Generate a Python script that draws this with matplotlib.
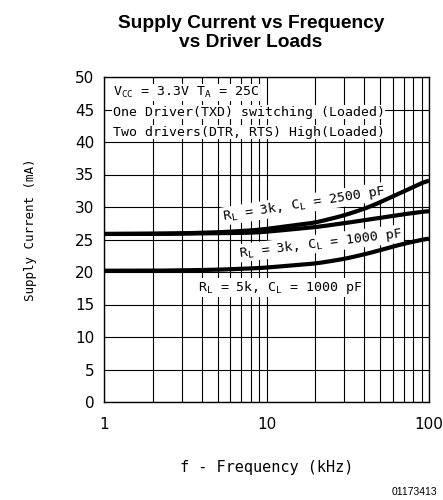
import numpy as np
import matplotlib.pyplot as plt
from matplotlib.ticker import FixedLocator, NullFormatter

# frequency (kHz) and supply current (mA)
freq = [1, 2, 3, 5, 7, 9.1, 20, 30, 43, 66, 100]
i_3k_2500 = [25.85, 25.9, 25.95, 26.1, 26.3, 26.5, 27.6, 28.7, 30.0, 32.1, 34.2]
i_3k_1000 = [25.85, 25.85, 25.9, 25.95, 26.0, 26.1, 26.9, 27.5, 28.1, 28.8, 29.4]
i_5k_1000 = [20.2, 20.2, 20.25, 20.35, 20.5, 20.6, 21.3, 22.0, 22.9, 24.2, 25.2]

yticks = [0, 5, 10, 15, 20, 25, 30, 35, 40, 45, 50]

fig = plt.figure(figsize=(4.43, 5), dpi=100)
ax = fig.add_axes([104 / 443, 1 - 402 / 500, 325 / 443, 325 / 500])

ax.set_xscale('log')
ax.set_xlim(1, 100)
ax.set_ylim(0, 50)

minor = [m * d for d in (1, 10) for m in range(2, 10)]
ax.xaxis.set_minor_locator(FixedLocator(minor))
ax.xaxis.set_minor_formatter(NullFormatter())
ax.set_xticks([1, 10, 100])
ax.set_xticklabels(['1', '10', '100'])
ax.set_yticks(yticks)
ax.tick_params(length=0, labelsize=11, pad=7)
ax.tick_params(axis='x', pad=11)
ax.tick_params(which='minor', length=0)

ax.grid(True, which='both', axis='x', color='black', lw=0.8)
ax.grid(True, which='major', axis='y', color='black', lw=0.8)
for s in ax.spines.values():
    s.set_linewidth(1.0)

# draw on a fine log-frequency grid through the read-off points
xs = np.logspace(0, 2, 300)
for vals in (i_3k_2500, i_3k_1000, i_5k_1000):
    ys = np.interp(np.log10(xs), np.log10(freq), vals)
    ys = np.convolve(np.pad(ys, 8, mode='edge'), np.ones(17) / 17, mode='valid')
    ax.plot(xs, ys, color='black', lw=3, solid_capstyle='butt', zorder=5)

mono = 'DejaVu Sans Mono'
box = dict(facecolor='white', edgecolor='none', pad=0.5)
ax.text(1.13, 47.6, r'V$_{\mathregular{CC}}$ = 3.3V T$_{\mathregular{A}}$ = 25C', fontsize=9.5, family=mono,
        va='center', ha='left', bbox=box)
ax.text(1.13, 44.6, 'One Driver(TXD) switching (Loaded)', fontsize=9.5, family=mono,
        va='center', ha='left', bbox=box)
ax.text(1.13, 41.5, 'Two drivers(DTR, RTS) High(Loaded)', fontsize=9.5, family=mono,
        va='center', ha='left', bbox=box)

ax.text(17.0, 30.5, r'R$_{\mathregular{L}}$ = 3k, C$_{\mathregular{L}}$ = 2500 pF', fontsize=9.5, family=mono,
        ha='center', va='center', rotation=9, bbox=box, zorder=4)
ax.text(21.5, 24.4, r'R$_{\mathregular{L}}$ = 3k, C$_{\mathregular{L}}$ = 1000 pF', fontsize=9.5, family=mono,
        ha='center', va='center', rotation=7, bbox=box, zorder=4)
ax.text(12.2, 17.6, r'R$_{\mathregular{L}}$ = 5k, C$_{\mathregular{L}}$ = 1000 pF', fontsize=9.5, family=mono,
        ha='center', va='center', bbox=box, zorder=4)

ax.set_xlabel('f - Frequency (kHz)', fontsize=11, family=mono, labelpad=20)
ax.set_ylabel('Supply Current (mA)', fontsize=9, family=mono)
ax.yaxis.set_label_coords(-0.205, 0.53)

fig.text(251 / 443, 1 - 33 / 500, 'Supply Current vs Frequency\nvs Driver Loads', ha='center', va='center',
         fontsize=13.8, fontweight='bold', family='Liberation Sans', linespacing=1.1)
fig.text(437 / 443, 1 - 492 / 500, '01173413', ha='right', va='center', fontsize=7.5, family='Liberation Sans')

fig.savefig('out.png', dpi=100)
